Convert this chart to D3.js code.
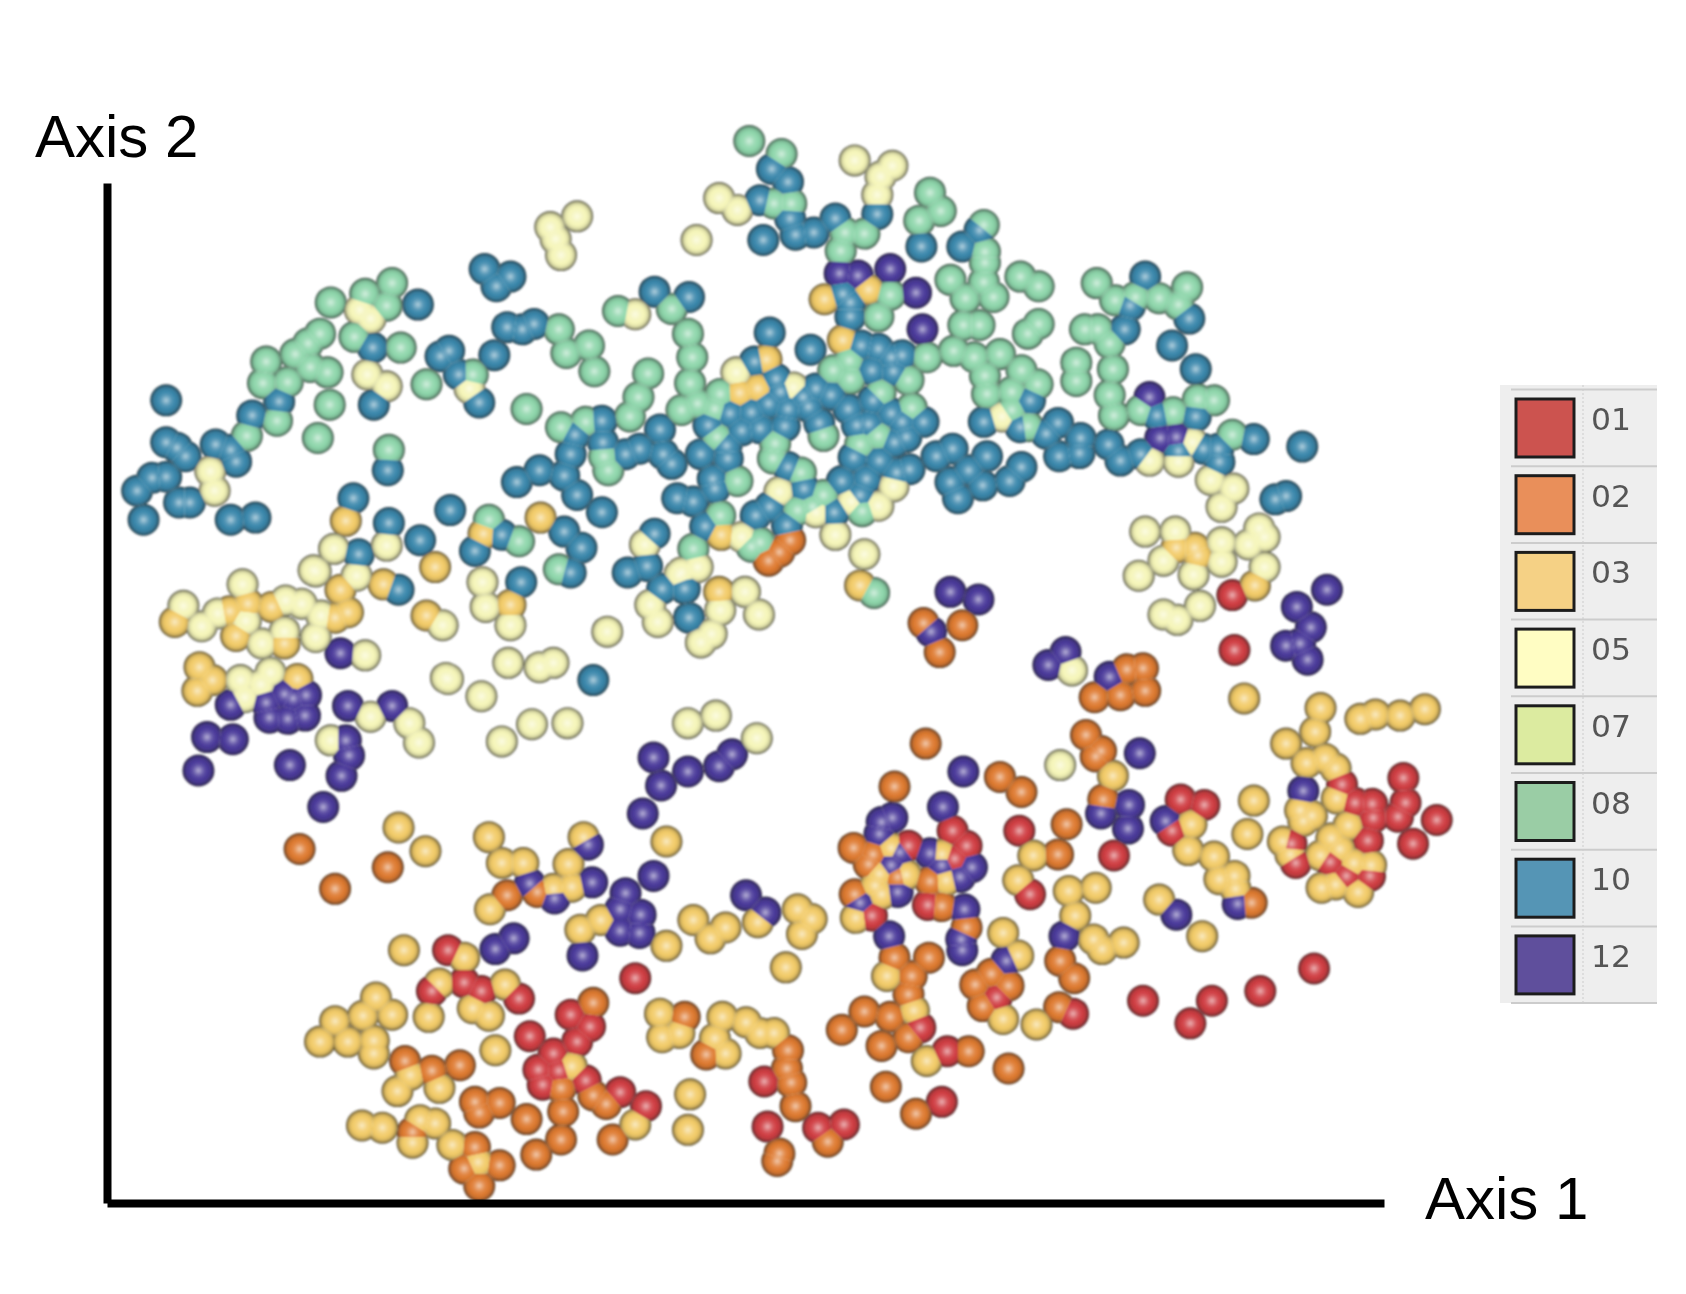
<!DOCTYPE html>
<html>
<head>
<meta charset="utf-8">
<script src="https://cdn.jsdelivr.net/npm/d3@7"></script>
<style>
  html, body { margin: 0; padding: 0; background: #fff; }
</style>
</head>
<body>
<div id="chart"></div>
<script>
const classes = ["01", "02", "03", "05", "07", "08", "10", "12"];
const legendColors = ["#cc5250", "#e98f5a", "#f5d185", "#fffdc3", "#dceba0", "#9acda5", "#5495b5", "#5e4f9c"];
const sphereColors = ["#cf3d42", "#de7a30", "#f2cb68", "#f5f5b8", "#dcedA0", "#8ed6ab", "#3a87ab", "#4a3a9a"];

// [axis 1, axis 2]
const s01 = [[1146,553],[1148,604],[845,786],[886,772],[899,786],[888,798],[811,851],[863,841],[948,772],[958,831],[998,942],[1036,795],[1098,743],[1120,748],[1090,772],[1248,729],[1260,746],[1276,747],[1277,760],[1305,723],[1307,746],[1300,759],[1336,762],[1314,784],[1272,781],[1201,784],[1205,802],[1237,801],[1274,814],[1252,814],[1222,900],[1063,930],[1127,930],[1107,951],[1172,921],[856,955],[881,977],[876,1024],[927,927],[417,883],[402,921],[432,913],[448,921],[483,928],[591,909],[531,943],[549,954],[537,968],[493,963],[515,979],[501,994],[520,995],[505,1008],[545,1004],[577,1015],[601,1028],[714,1047],[711,1005],[761,1048],[785,1045]];
const s02 = [[735,502],[725,513],[715,521],[859,579],[895,581],[874,606],[1048,622],[1063,621],[1065,642],[1042,646],[1018,648],[861,691],[832,731],[930,722],[950,736],[1010,683],[1024,698],[1019,703],[1026,743],[992,766],[984,794],[794,788],[812,794],[808,803],[835,815],[865,819],[795,831],[876,842],[899,862],[832,890],[864,890],[848,907],[845,924],[845,964],[828,945],[804,940],[783,957],[820,972],[901,977],[938,993],[907,915],[922,905],[938,916],[914,935],[985,936],[986,893],[999,909],[1164,839],[824,1010],[852,1035],[279,789],[361,806],[312,826],[500,829],[472,832],[552,932],[637,945],[657,980],[428,990],[377,986],[402,995],[442,1024],[465,1025],[446,1034],[522,1011],[552,1018],[564,1026],[524,1033],[522,1059],[499,1073],[490,1040],[570,1059],[442,1066],[432,1086],[465,1083],[446,1102],[725,1072],[723,1079],[733,976],[732,993],[736,1006],[740,1028],[770,1061],[384,1052]];
const s03 = [[767,278],[808,269],[784,316],[713,334],[705,361],[688,365],[671,497],[322,484],[405,527],[317,548],[357,543],[450,496],[503,481],[475,562],[397,572],[669,550],[800,544],[1094,509],[1111,509],[1114,516],[1167,544],[163,578],[214,568],[231,561],[220,591],[253,564],[265,598],[312,574],[324,569],[186,620],[198,632],[184,642],[277,631],[371,769],[396,791],[455,778],[543,778],[467,802],[487,802],[529,803],[532,824],[515,826],[620,782],[456,845],[559,855],[540,864],[620,879],[645,855],[675,862],[661,872],[705,857],[742,845],[755,854],[746,868],[731,899],[376,883],[432,890],[409,914],[470,915],[350,927],[338,944],[365,943],[312,949],[298,968],[324,968],[348,967],[348,979],[399,945],[440,937],[455,944],[461,976],[532,991],[382,999],[370,1014],[409,1011],[337,1046],[356,1048],[391,1041],[405,1044],[384,1062],[421,1064],[445,1080],[642,1017],[640,1050],[614,942],[616,964],[632,960],[672,945],[694,950],[707,960],[720,960],[665,965],[675,979],[591,1045],[829,788],[843,813],[818,812],[814,823],[820,831],[796,853],[876,794],[880,818],[825,907],[850,939],[862,986],[933,867],[947,888],[933,947],[964,952],[961,795],[947,818],[994,828],[1019,825],[1000,851],[1017,873],[1025,882],[1045,876],[1035,721],[1157,649],[1228,658],[1223,680],[1196,691],[1265,668],[1279,664],[1302,665],[1325,659],[1108,766],[1105,790],[1129,796],[1134,817],[1148,814],[1149,826],[1166,744],[1160,775],[1078,836],[1118,870],[1215,709],[1232,705],[1242,714],[1243,742],[1254,767],[1209,753],[1212,763],[1220,758],[1193,782],[1200,794],[1238,779],[1246,789],[1228,795],[1259,802],[1275,804],[1229,825],[1242,822],[1263,829]];
const s05 = [[648,223],[537,201],[512,211],[517,222],[522,237],[669,184],[686,195],[795,149],[830,154],[819,164],[816,181],[335,288],[345,296],[591,292],[342,348],[360,359],[437,361],[196,438],[200,456],[360,507],[311,510],[292,530],[332,535],[449,541],[452,564],[475,581],[412,581],[565,587],[605,562],[612,578],[600,506],[632,534],[649,527],[693,550],[670,567],[706,571],[662,589],[652,597],[685,346],[738,360],[725,457],[759,476],[690,499],[777,497],[804,515],[831,452],[792,466],[817,470],[634,532],[932,387],[1109,411],[1069,428],[1096,429],[1126,446],[1147,454],[1136,471],[1065,494],[1093,494],[1136,504],[1171,491],[1161,506],[1176,499],[1082,521],[1136,522],[1110,534],[1176,527],[1059,535],[1082,571],[1095,576],[1116,563],[997,623],[986,711],[171,563],[188,582],[203,570],[226,543],[229,577],[266,558],[281,561],[244,598],[265,587],[294,592],[299,572],[294,531],[340,609],[415,630],[224,632],[252,625],[243,636],[228,648],[345,666],[381,672],[390,690],[308,688],[417,631],[448,647],[473,616],[502,620],[515,616],[495,673],[528,672],[467,689],[640,672],[666,665],[704,686]];
const s07 = [];
const s08 = [[697,131],[727,143],[720,189],[736,189],[782,233],[786,216],[804,217],[365,263],[340,273],[308,281],[360,284],[625,287],[575,289],[298,310],[287,319],[275,329],[289,341],[305,346],[248,336],[245,356],[268,355],[330,313],[373,323],[307,376],[520,306],[527,328],[548,321],[553,345],[440,348],[397,357],[490,380],[603,347],[594,369],[586,387],[258,391],[230,405],[296,407],[362,418],[455,483],[483,503],[520,529],[645,510],[522,397],[545,392],[562,424],[566,437],[640,310],[644,332],[642,356],[649,375],[665,380],[670,366],[634,381],[667,406],[686,447],[670,479],[721,412],[719,426],[745,439],[766,405],[766,460],[742,474],[756,471],[699,508],[707,504],[802,475],[800,413],[817,405],[819,365],[848,379],[790,335],[775,344],[791,352],[828,274],[817,294],[862,332],[845,353],[813,551],[865,179],[875,196],[855,205],[915,209],[916,234],[916,244],[884,260],[915,262],[898,277],[924,276],[949,257],[966,266],[896,302],[911,302],[966,301],[956,310],[887,326],[906,332],[930,329],[916,349],[918,366],[950,344],[965,357],[941,364],[941,381],[956,396],[1020,263],[1037,279],[1056,276],[1078,277],[1104,267],[1096,283],[1009,306],[1021,306],[1032,319],[1035,343],[1001,337],[1001,354],[1032,367],[1036,386],[1061,381],[1091,383],[1114,371],[1129,372],[1146,404]];
const s10 = [[718,157],[733,169],[707,186],[735,203],[710,223],[740,218],[757,216],[777,203],[816,199],[857,229],[895,229],[911,214],[451,250],[475,257],[462,266],[389,283],[609,271],[641,276],[347,323],[348,376],[410,331],[418,326],[460,330],[472,304],[486,306],[497,301],[427,348],[446,374],[155,372],[260,373],[235,386],[155,411],[165,416],[173,424],[201,413],[215,418],[220,429],[155,443],[142,444],[128,456],[134,483],[167,467],[177,467],[215,483],[238,481],[361,437],[329,463],[362,486],[391,502],[334,515],[371,548],[419,474],[467,497],[442,512],[525,494],[541,509],[531,532],[485,541],[584,532],[602,526],[609,496],[616,547],[637,547],[641,574],[552,632],[481,448],[502,437],[525,442],[537,460],[560,476],[531,422],[535,404],[560,391],[561,411],[582,422],[595,417],[614,399],[617,422],[625,431],[630,463],[645,466],[652,422],[677,426],[676,414],[659,395],[663,445],[665,454],[716,309],[754,325],[702,336],[722,352],[759,361],[773,367],[747,369],[726,364],[715,375],[752,378],[733,380],[699,383],[679,384],[690,400],[707,398],[730,396],[762,393],[789,380],[812,372],[829,384],[839,392],[859,392],[843,406],[832,411],[797,395],[808,394],[794,425],[818,428],[733,434],[834,439],[846,436],[783,447],[806,445],[748,454],[776,476],[716,471],[703,479],[732,488],[800,460],[656,489],[784,273],[791,281],[791,294],[801,321],[817,324],[829,332],[839,330],[811,344],[831,345],[871,424],[886,417],[901,437],[884,448],[914,451],[891,463],[918,424],[950,434],[939,447],[915,392],[949,397],[958,372],[984,393],[973,403],[1005,407],[985,424],[1004,421],[1031,413],[1042,428],[1065,257],[1051,284],[1106,296],[1046,306],[1090,321],[1112,343],[1076,386],[1112,387],[1061,422],[1096,419],[1119,417],[1133,417],[1134,429],[1166,408],[1211,415],[1186,464],[1196,461]];
const s12 = [[781,254],[798,256],[828,250],[852,272],[858,306],[1069,369],[1079,407],[1094,406],[884,550],[910,557],[866,587],[975,618],[991,606],[1032,629],[1206,564],[1234,548],[1219,583],[1196,600],[1216,613],[1209,598],[317,607],[215,655],[248,653],[265,645],[285,646],[273,649],[251,667],[268,668],[284,665],[324,656],[365,656],[322,688],[325,702],[318,721],[193,685],[217,687],[185,716],[270,711],[301,750],[608,704],[640,717],[669,712],[681,701],[615,730],[598,756],[608,814],[547,785],[551,820],[493,821],[516,835],[582,830],[577,845],[596,850],[577,865],[595,867],[542,888],[478,872],[461,882],[694,832],[712,848],[896,717],[877,750],[830,760],[820,764],[818,775],[837,792],[865,793],[904,806],[893,815],[876,804],[829,804],[835,829],[800,839],[897,845],[894,873],[895,883],[827,870],[936,893],[990,870],[1024,756],[1050,748],[1049,770],[1060,700],[1084,763],[1094,850],[1151,840],[1212,735]];
const series = [s01, s02, s03, s05, s07, s08, s10, s12];

const width = 1686;
const height = 1294;
const sphereR = 16;

const svg = d3.select("#chart").append("svg")
  .attr("width", width)
  .attr("height", height)
  .style("display", "block");

const x = d3.scaleLinear().domain([100, 1287]).range([107, 1384]);
const y = d3.scaleLinear().domain([170, 1118]).range([183, 1203]);

const defs = svg.append("defs");

const soft = defs.append("filter").attr("id", "soft")
  .attr("x", "-5%").attr("y", "-5%").attr("width", "110%").attr("height", "110%");
soft.append("feGaussianBlur").attr("stdDeviation", 1);

const softer = defs.append("filter").attr("id", "softer");
softer.append("feGaussianBlur").attr("stdDeviation", 0.7);

// one shaded ball per class, lit from the front
classes.forEach((c, i) => {
  const base = sphereColors[i];
  const g = defs.append("radialGradient").attr("id", "ball" + c);
  const mid = d3.interpolateRgb(base, "#ffffff");
  const dark = d3.interpolateRgb(base, "#1c1c1c");
  const stops = [
    [0, mid(0.6)],
    [0.14, mid(0.4)],
    [0.36, mid(0.12)],
    [0.58, base],
    [0.78, dark(0.12)],
    [0.9, dark(0.4)],
    [1, dark(0.8)]
  ];
  stops.forEach((s) => {
    g.append("stop").attr("offset", s[0]).attr("stop-color", s[1]);
  });
});

// legend
const legend = svg.append("g").attr("filter", "url(#softer)");
const rowStep = 76.7;
legend.append("rect")
  .attr("x", 1500).attr("y", 385)
  .attr("width", 157).attr("height", 618)
  .attr("fill", "#eeeeee");
legend.append("line")
  .attr("x1", 1583).attr("x2", 1583)
  .attr("y1", 385).attr("y2", 1003)
  .attr("stroke", "#d8d8d8").attr("stroke-width", 1.5)
  .attr("stroke-dasharray", "2 2");
legend.selectAll(".sep")
  .data(d3.range(classes.length + 1))
  .enter()
  .append("line")
  .attr("class", "sep")
  .attr("x1", 1511).attr("x2", 1657)
  .attr("y1", (d) => 389.5 + d * rowStep)
  .attr("y2", (d) => 389.5 + d * rowStep)
  .attr("stroke", "#cccccc").attr("stroke-width", 2);
const rows = legend.selectAll(".row")
  .data(classes)
  .enter()
  .append("g")
  .attr("class", "row")
  .attr("transform", (d, i) => "translate(0," + (i * rowStep) + ")");
rows.append("rect")
  .attr("x", 1516).attr("y", 399)
  .attr("width", 58).attr("height", 58)
  .attr("fill", (d, i) => legendColors[i])
  .attr("stroke", "#1e1e1e").attr("stroke-width", 3);
rows.append("text")
  .attr("x", 1591).attr("y", 430)
  .attr("font-family", "'DejaVu Sans'")
  .attr("font-size", 31)
  .attr("fill", "#555555")
  .attr("textLength", 40)
  .attr("lengthAdjust", "spacingAndGlyphs")
  .text((d) => d);

// spheres of one size meet on the bisector plane, so cut each to its voronoi cell
const points = [];
series.forEach((list, i) => {
  list.forEach((p) => {
    points.push({ cls: classes[i], px: x(p[0]), py: y(p[1]) });
  });
});
const voronoi = d3.Delaunay
  .from(points, (d) => d.px, (d) => d.py)
  .voronoi([0, 0, width, height]);

points.forEach((d, i) => {
  defs.append("clipPath").attr("id", "cell" + i)
    .append("path").attr("d", voronoi.renderCell(i));
});

svg.append("g")
  .attr("filter", "url(#soft)")
  .selectAll("circle")
  .data(points)
  .enter()
  .append("circle")
  .attr("cx", (d) => d.px)
  .attr("cy", (d) => d.py)
  .attr("r", sphereR)
  .attr("clip-path", (d, i) => "url(#cell" + i + ")")
  .attr("fill", (d) => "url(#ball" + d.cls + ")");

// axes carry no ticks, just the heavy lines
const xAxis = d3.axisBottom(x).tickValues([]).tickSize(0).tickSizeOuter(0);
const yAxis = d3.axisLeft(y).tickValues([]).tickSize(0).tickSizeOuter(0);

svg.append("g")
  .attr("transform", "translate(0,1203)")
  .call(xAxis)
  .select(".domain")
  .attr("stroke", "#000").attr("stroke-width", 8);

svg.append("g")
  .attr("transform", "translate(107,0)")
  .call(yAxis)
  .select(".domain")
  .attr("stroke", "#000").attr("stroke-width", 8);

svg.append("text")
  .attr("x", 35).attr("y", 157)
  .attr("font-family", "'Liberation Sans'")
  .attr("font-size", 60)
  .attr("fill", "#000")
  .text("Axis 2");

svg.append("text")
  .attr("x", 1425).attr("y", 1219)
  .attr("font-family", "'Liberation Sans'")
  .attr("font-size", 60)
  .attr("fill", "#000")
  .text("Axis 1");
</script>
</body>
</html>
